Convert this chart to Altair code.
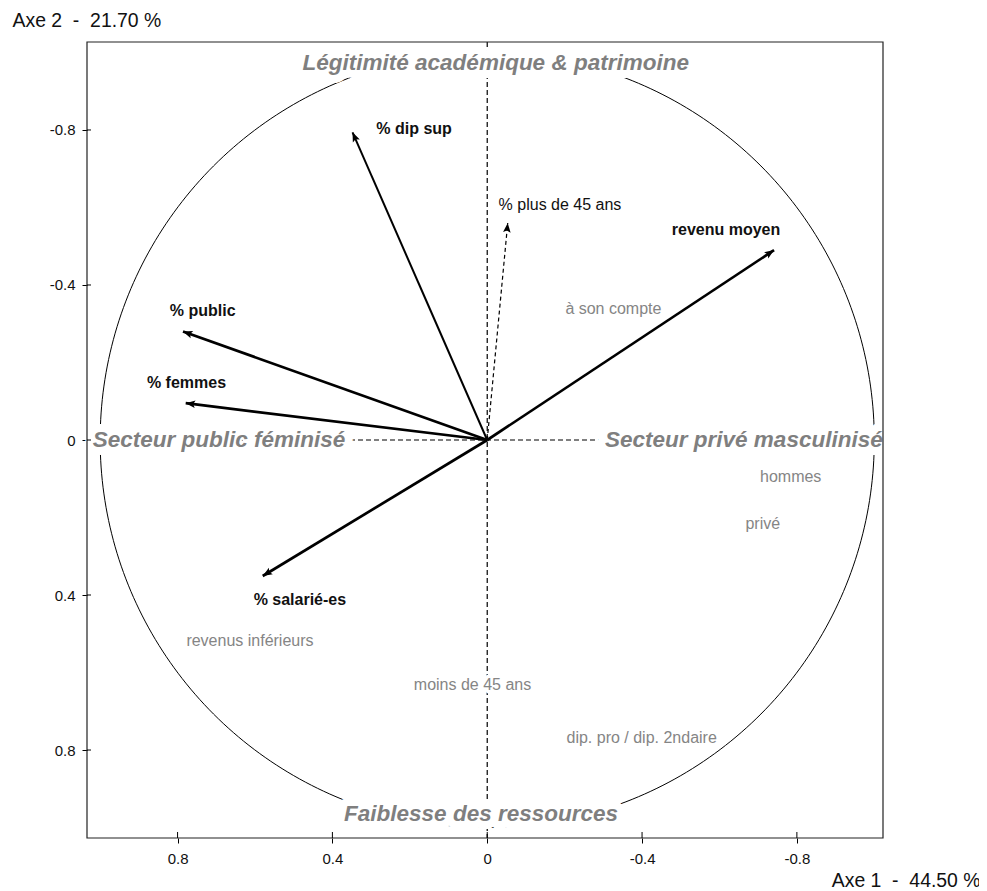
import altair as alt
import numpy as np
import pandas as pd

# ---- data ----
var_names = ["% dip sup", "% plus de 45 ans", "revenu moyen", "% public", "% femmes", "% salarié-es"]
var_x = [0.348, -0.053, -0.741, 0.786, 0.779, 0.580]
var_y = [-0.794, -0.560, -0.490, -0.280, -0.095, 0.351]
var_label_x = [0.189, -0.188, -0.617, 0.735, 0.777, 0.484]
var_label_y = [-0.803, -0.606, -0.542, -0.334, -0.148, 0.413]

sup_names = ["à son compte", "hommes", "privé", "revenus inférieurs", "moins de 45 ans", "dip. pro / dip. 2ndaire"]
sup_x = [-0.326, -0.784, -0.712, 0.613, 0.038, -0.399]
sup_y = [-0.337, 0.095, 0.217, 0.518, 0.632, 0.770]

dim_names = ["Légitimité académique & patrimoine", "Faiblesse des ressources",
             "Secteur public féminisé", "Secteur privé masculinisé"]
dim_x = [-0.022, 0.016, 0.693, -0.663]
dim_y = [-0.972, 0.965, 0.0, 0.0]

tick_values = [0.8, 0.4, 0, -0.4, -0.8]
axis1_title = "Axe 1\u00a0\u00a0-\u00a0\u00a044.50 %"
axis2_title = "Axe 2\u00a0\u00a0-\u00a0\u00a021.70 %"

FONT = "Liberation Sans"
W = 796
H = 796

vars_df = pd.DataFrame({"name": var_names, "x": var_x, "y": var_y,
                        "lx": var_label_x, "ly": var_label_y})
sup_df = pd.DataFrame({"name": sup_names, "x": sup_x, "y": sup_y})
dim_df = pd.DataFrame({"name": dim_names, "x": dim_x, "y": dim_y})
origin_df = pd.DataFrame({"v": [0.0]})
ticks_df = pd.DataFrame({"t": tick_values})
theta = np.linspace(0, 2 * np.pi, 361)
circle_df = pd.DataFrame({"cx": np.cos(theta), "cy": np.sin(theta), "i": np.arange(361)})

xs = alt.Scale(domain=[1.034, -1.0225], nice=False, zero=False)
ys = alt.Scale(domain=[1.027, -1.027], nice=False, zero=False)

xaxis = alt.Axis(values=tick_values, labelExpr="datum.value + ''", grid=False, domain=False,
                 tickSize=5, tickColor="black", labelPadding=8, labelFont=FONT, labelFontSize=15,
                 labelColor="#111", title=axis1_title, titleFont=FONT, titleFontSize=19.4,
                 titleFontWeight="normal", titleColor="#111", titleAnchor="start",
                 titleAlign="right", titleBaseline="middle", titleX=893, titleY=42)
yaxis = alt.Axis(values=tick_values, labelExpr="datum.value + ''", grid=False, domain=False,
                 tickSize=5, tickColor="black", labelPadding=7, labelFont=FONT, labelFontSize=15,
                 labelColor="#111", title=axis2_title, titleFont=FONT, titleFontSize=19.4,
                 titleFontWeight="normal", titleColor="#111", titleAngle=0, titleAnchor="start",
                 titleAlign="left", titleBaseline="middle", titleX=-75, titleY=-22)


def X(f):
    return alt.X(f, type="quantitative", scale=xs, axis=xaxis)


def Y(f):
    return alt.Y(f, type="quantitative", scale=ys, axis=yaxis)


circle = alt.Chart(circle_df).mark_line(color="black", strokeWidth=1).encode(
    x=X("cx"), y=Y("cy"), order="i:Q")

vline = alt.Chart(origin_df).mark_rule(color="black", strokeWidth=1.2, strokeDash=[5, 3]).encode(x=X("v"))
hline = alt.Chart(origin_df).mark_rule(color="black", strokeWidth=1.2, strokeDash=[5, 3]).encode(y=Y("v"))

dim_style = dict(font=FONT, fontSize=22.5, fontWeight="bold", fontStyle="italic",
                 align="center", baseline="middle")
dim_halo = alt.Chart(dim_df).mark_text(fill="white", stroke="white", strokeWidth=16,
                                       strokeJoin="round", **dim_style).encode(
    x=X("x"), y=Y("y"), text="name:N")
dim_text = alt.Chart(dim_df).mark_text(color="#7f7f7f", **dim_style).encode(
    x=X("x"), y=Y("y"), text="name:N")

small_style = dict(font=FONT, fontSize=16, align="center", baseline="middle")
sup_halo = alt.Chart(sup_df).mark_text(fill="white", stroke="white", strokeWidth=7,
                                       strokeJoin="round", **small_style).encode(
    x=X("x"), y=Y("y"), text="name:N")
sup_text = alt.Chart(sup_df).mark_text(color="#858585", **small_style).encode(
    x=X("x"), y=Y("y"), text="name:N")

var_text_bold = alt.Chart(vars_df).transform_filter(
    alt.datum.name != "% plus de 45 ans").mark_text(
    color="#111", fontWeight="bold", **small_style).encode(x=X("lx"), y=Y("ly"), text="name:N")
var_text_plain = alt.Chart(vars_df).transform_filter(
    alt.datum.name == "% plus de 45 ans").mark_text(
    color="#111", fontWeight="normal", **small_style).encode(x=X("lx"), y=Y("ly"), text="name:N")

base_arrows = alt.Chart(vars_df).transform_calculate(x0="0", y0="0")
solid = base_arrows.transform_filter(alt.datum.name != "% plus de 45 ans").mark_rule(
    color="black").encode(
    x=X("x0:Q"), y=Y("y0:Q"), x2="x:Q", y2="y:Q",
    strokeWidth=alt.condition(alt.datum.name == "% dip sup", alt.value(2.0), alt.value(2.7)))
dashed = base_arrows.transform_filter(alt.datum.name == "% plus de 45 ans").mark_rule(
    color="black", strokeWidth=1.2, strokeDash=[4, 3]).encode(
    x=X("x0:Q"), y=Y("y0:Q"), x2="x:Q", y2="y:Q")

heads = alt.Chart(vars_df).transform_calculate(
    ang="(atan2(-datum.x, -datum.y) * 180 / PI + 360) % 360").mark_point(
    shape="M0,0L-0.5,1.25L0,1.0L0.5,1.25Z", filled=True, color="black", size=230, opacity=1).encode(
    x=X("x"), y=Y("y"), angle=alt.Angle("ang:Q", scale=None))

# frame drawn on top, plus the inner half of the axis ticks (they cross the frame)
frame = alt.Chart(origin_df).mark_rect(filled=False, stroke="#222", strokeWidth=1.2).encode(
    x=alt.value(0), x2=alt.value(W), y=alt.value(0), y2=alt.value(H))
xticks_in = alt.Chart(ticks_df).mark_rule(color="black", strokeWidth=1).encode(
    x=X("t"), y=alt.value(H - 6), y2=alt.value(H))
yticks_in = alt.Chart(ticks_df).mark_rule(color="black", strokeWidth=1).encode(
    y=Y("t"), x=alt.value(0), x2=alt.value(4))

chart = alt.layer(
    circle, vline, hline, dim_halo, sup_halo,
    dim_text, sup_text, var_text_bold, var_text_plain,
    solid, dashed, heads, frame, xticks_in, yticks_in
).properties(
    width=W, height=H,
    autosize=alt.AutoSizeParams(type="none"),
    padding={"left": 79, "top": 34, "right": 96, "bottom": 51},
    background="white",
).configure_view(stroke=None)

chart.save("out.html", embed_options={"renderer": "svg", "actions": False})
